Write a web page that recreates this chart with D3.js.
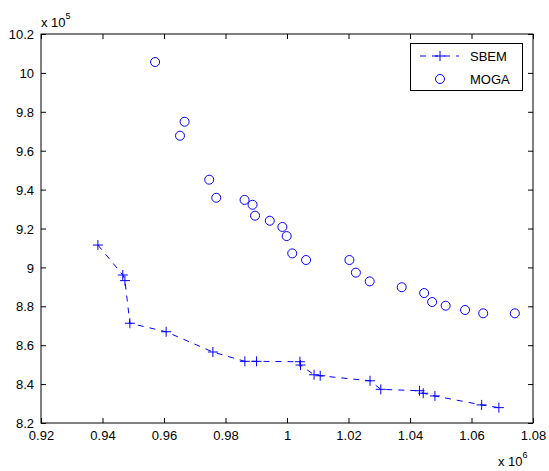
<!DOCTYPE html>
<html><head><meta charset="utf-8">
<script src="https://cdn.jsdelivr.net/npm/d3@7"></script>
<style>body{margin:0;background:#fff}svg{display:block}text{font-family:"Liberation Sans",Arial,sans-serif}</style>
</head><body>
<svg id="c" width="549" height="471"></svg>
<script>
// values in units of 1e6 (x) and 1e5 (y)
const sbemX = [0.9385,0.9466,0.9473,0.9489,0.9607,0.9759,0.9863,0.9901,1.0042,1.0044,1.0088,1.0108,1.0270,1.0305,1.0431,1.0443,1.0481,1.0633,1.0689];
const sbemY = [9.115,8.961,8.932,8.713,8.669,8.565,8.517,8.517,8.515,8.498,8.448,8.443,8.417,8.373,8.366,8.353,8.339,8.293,8.279];
const mogaX = [0.9571,0.9667,0.9652,0.9747,0.9770,0.9862,0.9888,0.9896,0.9944,0.9985,0.9999,1.0017,1.0062,1.0203,1.0224,1.0269,1.0373,1.0446,1.0472,1.0516,1.0579,1.0638,1.0741];
const mogaY = [10.056,9.749,9.677,9.451,9.358,9.347,9.322,9.266,9.240,9.208,9.161,9.072,9.038,9.038,8.973,8.928,8.898,8.868,8.822,8.803,8.781,8.764,8.764];
const xTicks = [0.92,0.94,0.96,0.98,1,1.02,1.04,1.06,1.08];
const yTicks = [8.2,8.4,8.6,8.8,9,9.2,9.4,9.6,9.8,10,10.2];
const seriesNames = ["SBEM","MOGA"];

const L=41,R=533,T=34,B=423;
const blue="#0000ff";
const FS=13;
const svg=d3.select("#c");
const x=d3.scaleLinear().domain([0.92,1.08]).range([L,R]);
const y=d3.scaleLinear().domain([8.2,10.2]).range([B,T]);
const fmt=d=>String(+d.toFixed(2));

const tk=5;
svg.append("g").attr("transform",`translate(0,${B})`)
  .call(d3.axisBottom(x).tickValues(xTicks).tickFormat(fmt).tickSizeInner(-tk).tickSizeOuter(0).tickPadding(8))
  .call(g=>{g.select(".domain").remove();g.selectAll("text").attr("font-size",FS).attr("fill","#000");});
svg.append("g").attr("transform",`translate(0,${T})`)
  .call(d3.axisTop(x).tickValues(xTicks).tickFormat("").tickSizeInner(-tk).tickSizeOuter(0))
  .call(g=>g.select(".domain").remove());
svg.append("g").attr("transform",`translate(${L},0)`)
  .call(d3.axisLeft(y).tickValues(yTicks).tickFormat(fmt).tickSizeInner(-tk).tickSizeOuter(0).tickPadding(7))
  .call(g=>{g.select(".domain").remove();g.selectAll("text").attr("font-size",FS).attr("fill","#000").attr("dy","0.36em");});
svg.append("g").attr("transform",`translate(${R},0)`)
  .call(d3.axisRight(y).tickValues(yTicks).tickFormat("").tickSizeInner(-tk).tickSizeOuter(0))
  .call(g=>g.select(".domain").remove());
svg.append("rect").attr("x",L).attr("y",T).attr("width",R-L).attr("height",B-T)
  .attr("fill","none").attr("stroke","#000").attr("stroke-width",1);

const e1=svg.append("text").attr("x",L).attr("y",27).attr("font-size",FS);
e1.append("tspan").text("x 10");
e1.append("tspan").attr("dy",-8).attr("font-size",9).text("5");
const e2=svg.append("text").attr("x",498).attr("y",466).attr("font-size",FS);
e2.append("tspan").text("x 10");
e2.append("tspan").attr("dy",-8).attr("font-size",9).text("6");

const sb=sbemX.map((v,i)=>[v,sbemY[i]]);
svg.append("path").datum(sb)
  .attr("d",d3.line().x(d=>x(d[0])).y(d=>y(d[1])))
  .attr("fill","none").attr("stroke",blue).attr("stroke-width",1).attr("stroke-dasharray","6,6");
const cross=(g,cx,cy,s)=>{
  g.append("line").attr("x1",cx-s).attr("x2",cx+s).attr("y1",cy).attr("y2",cy).attr("stroke",blue);
  g.append("line").attr("x1",cx).attr("x2",cx).attr("y1",cy-s).attr("y2",cy+s).attr("stroke",blue);
};
const gm=svg.append("g");
sb.forEach(d=>cross(gm,x(d[0]),y(d[1]),5));

svg.append("g").selectAll("circle").data(mogaX.map((v,i)=>[v,mogaY[i]])).join("circle")
  .attr("cx",d=>x(d[0])).attr("cy",d=>y(d[1])).attr("r",4.5)
  .attr("fill","none").attr("stroke",blue).attr("stroke-width",1);

const lg=svg.append("g");
lg.append("rect").attr("x",410.5).attr("y",43.5).attr("width",112).attr("height",47)
  .attr("fill","#fff").attr("stroke","#000");
lg.append("line").attr("x1",419).attr("x2",459).attr("y1",56).attr("y2",56)
  .attr("stroke",blue).attr("stroke-dasharray","6,6").attr("stroke-dashoffset",-1);
cross(lg,440,56,5);
lg.append("circle").attr("cx",440).attr("cy",79).attr("r",4.5).attr("fill","none").attr("stroke",blue);
lg.selectAll("text.l").data(seriesNames).join("text").attr("class","l")
  .attr("x",470).attr("y",(d,i)=>61+i*23).attr("font-size",FS).text(d=>d);
</script>
</body></html>
